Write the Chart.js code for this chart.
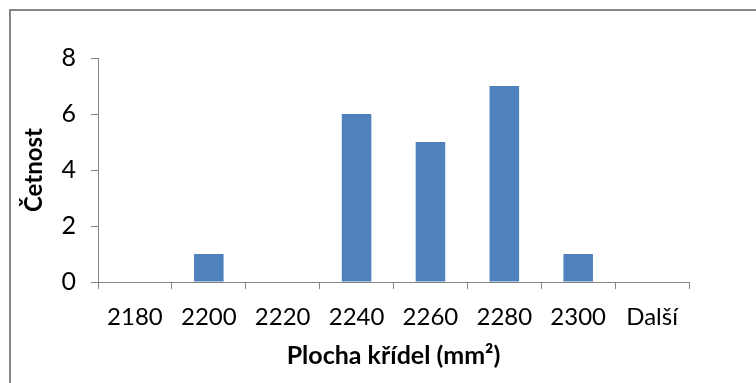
<!DOCTYPE html>
<html>
<head>
<meta charset="utf-8">
<script src="https://cdn.jsdelivr.net/npm/chart.js@4/dist/chart.umd.min.js"></script>
<style>
  html, body { margin: 0; padding: 0; background: #ffffff; overflow: hidden; }
  #wrap { position: relative; width: 756px; height: 383px; }
  #frame { position: absolute; left: 9px; top: 9px; width: 800px; height: 400px;
           border-left: 2px solid #868686; border-top: 2px solid #868686; }
  canvas { position: absolute; left: 0; top: 0; }
</style>
</head>
<body>
<div id="wrap">
  <div id="frame"></div>
  <canvas id="c" width="756" height="383"></canvas>
</div>
<script>
const categories = ['2180', '2200', '2220', '2240', '2260', '2280', '2300', 'Další'];
const frequencies = [0, 1, 0, 6, 5, 7, 1, 0];
const yTicks = [0, 2, 4, 6, 8];
const xTitle = 'Plocha křídel (mm²)';
const yTitle = 'Četnost';

const FONT = 'Lato, "Open Sans", sans-serif';
const AXIS = '#868686';

new Chart(document.getElementById('c'), {
  type: 'bar',
  data: {
    labels: categories,
    datasets: [{
      data: frequencies,
      backgroundColor: '#4F81BD',
      borderWidth: 0,
      categoryPercentage: 1.0,
      barPercentage: 0.4
    }]
  },
  options: {
    responsive: false,
    animation: false,
    devicePixelRatio: 1,
    layout: { padding: { left: 0, right: 67, top: 58, bottom: 0 } },
    plugins: { legend: { display: false }, tooltip: { enabled: false } },
    scales: {
      x: {
        grid: { display: true, drawOnChartArea: false, drawTicks: true, tickLength: 7, color: AXIS, offset: true },
        border: { display: true, color: AXIS, width: 1 },
        ticks: { color: '#000', font: { family: FONT, size: 24 }, padding: 14, maxRotation: 0, autoSkip: false },
        title: { display: true, text: xTitle, color: '#000', font: { family: FONT, size: 25, weight: 'bold' }, padding: { top: 0, bottom: 12 } },
        afterFit: (s) => { s.height = 101; }
      },
      y: {
        min: 0, max: 8,
        afterBuildTicks: (s) => { s.ticks = yTicks.map(v => ({ value: v })); },
        grid: { display: true, drawOnChartArea: false, drawTicks: true, tickLength: 7, color: AXIS },
        border: { display: true, color: AXIS, width: 1 },
        ticks: { color: '#000', font: { family: FONT, size: 25 }, padding: 15 },
        title: { display: true, text: yTitle, color: '#000', font: { family: FONT, size: 24, weight: 'bold' }, padding: { top: 20, bottom: 0 } },
        afterFit: (s) => { s.width = 98; }
      }
    }
  }
});
</script>
</body>
</html>
